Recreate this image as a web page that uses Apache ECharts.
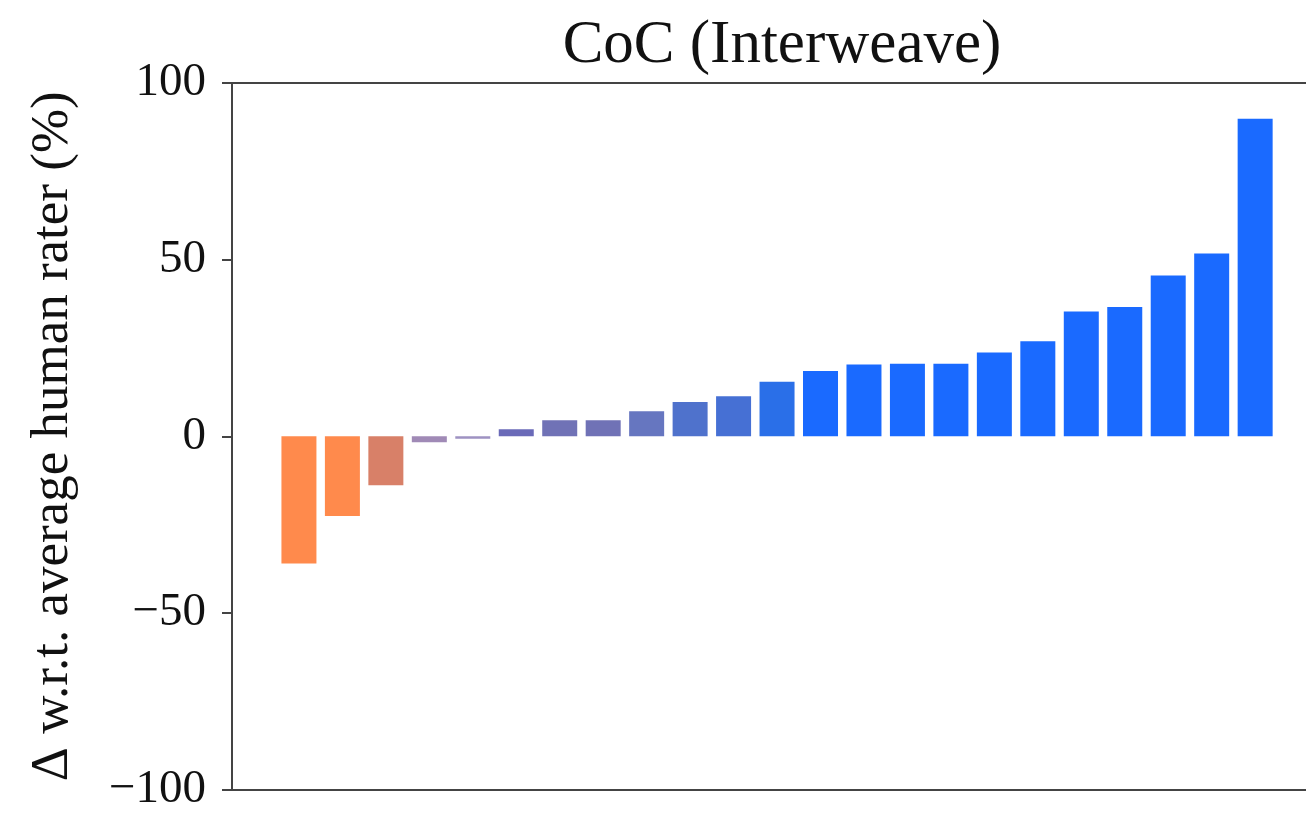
<!DOCTYPE html>
<html>
<head>
<meta charset="utf-8">
<script src="https://cdn.jsdelivr.net/npm/echarts@6/dist/echarts.min.js"></script>
<style>
  html, body { margin: 0; padding: 0; background: #ffffff; }
  #chart { width: 1306px; height: 813px; }
</style>
</head>
<body>
<div id="chart"></div>
<script>
// ---- data ----
var categories = ['1','2','3','4','5','6','7','8','9','10','11','12','13','14','15','16','17','18','19','20','21','22','23'];
var deltaValues = [-36.0, -22.6, -13.9, -1.7, -0.7, 2.0, 4.5, 4.5, 7.1, 9.7, 11.3, 15.4, 18.5, 20.3, 20.5, 20.5, 23.7, 26.9, 35.3, 36.6, 45.5, 51.7, 89.9];
var yTicks = [-100, -50, 0, 50, 100];
// per-bar fill colours (orange -> blue ramp)
var barColors = ['#ff8a4c', '#ff8a4c', '#d88068', '#a08ab6', '#9e92c2', '#6a6ab8', '#7072b6', '#7072b6',
                 '#6676c0', '#4f72cc', '#4670d4', '#2a6fe8', '#1a6aff', '#1a6aff', '#1a6aff', '#1a6aff',
                 '#1a6aff', '#1a6aff', '#1a6aff', '#1a6aff', '#1a6aff', '#1a6aff', '#1a6aff'];

var seriesData = deltaValues.map(function (v, i) {
  return { value: [i, v], name: categories[i], itemStyle: { color: barColors[i] } };
});

var serif = "'Liberation Serif', 'DejaVu Serif', serif";
var spine = { show: true, onZero: false, lineStyle: { color: '#444', width: 2 } };
// x range: matplotlib-style 5% margin on the left; plot continues past the right edge of the picture
var xMin = -1.54, xMax = 23.17;

var chart = echarts.init(document.getElementById('chart'), null, { renderer: 'canvas' });
chart.setOption({
  animation: false,
  backgroundColor: '#ffffff',
  title: {
    text: 'CoC (Interweave)',
    left: 777,
    top: 10,
    textAlign: 'center',
    textStyle: { fontFamily: serif, fontSize: 61, fontWeight: 'normal', color: '#111' }
  },
  grid: {
    left: 232, top: 83, right: 0, bottom: 23,
    show: false,
    containLabel: false
  },
  xAxis: [{
    type: 'value', position: 'bottom',
    min: xMin, max: xMax,
    axisLine: spine,
    axisTick: { show: false },
    axisLabel: { show: false },
    splitLine: { show: false }
  }, {
    type: 'value', position: 'top',
    min: xMin, max: xMax,
    axisLine: spine,
    axisTick: { show: false },
    axisLabel: { show: false },
    splitLine: { show: false }
  }],
  yAxis: {
    type: 'value',
    min: yTicks[0], max: yTicks[yTicks.length - 1], interval: 50,
    name: 'Δ w.r.t. average human rater (%)',
    nameLocation: 'middle',
    nameGap: 152,
    nameTextStyle: { fontFamily: serif, fontSize: 53, color: '#111' },
    axisLine: spine,
    axisTick: { show: true, inside: false, length: 10, lineStyle: { color: '#444', width: 2 } },
    axisLabel: {
      fontFamily: serif, fontSize: 47, color: '#111', margin: 26,
      formatter: function (v) { return v < 0 ? '\u2212' + Math.abs(v) : String(v); }
    },
    splitLine: { show: false }
  },
  series: [{
    type: 'bar',
    xAxisIndex: 0,
    data: seriesData,
    barWidth: 35
  }]
});
</script>
</body>
</html>
